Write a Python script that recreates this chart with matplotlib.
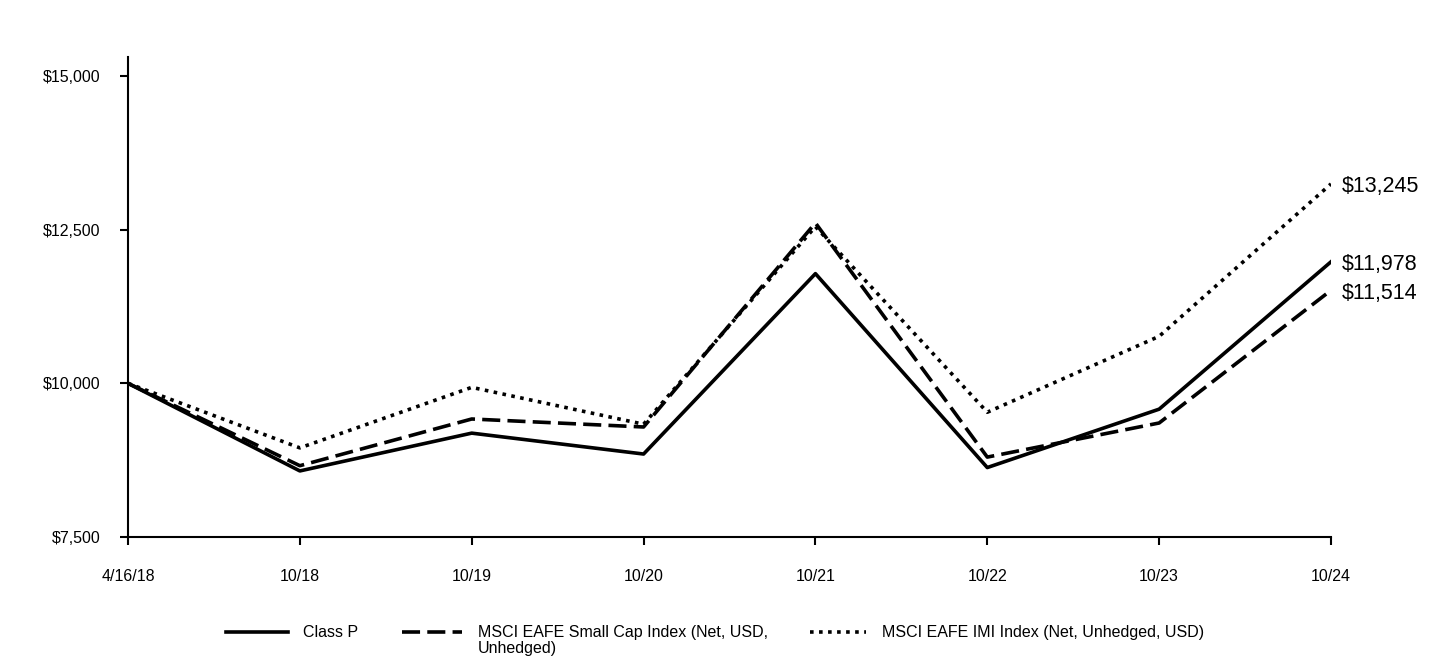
import matplotlib.pyplot as plt
from matplotlib.lines import Line2D
from matplotlib.ticker import FuncFormatter

plt.rcParams['font.family'] = ['Liberation Sans', 'DejaVu Sans']

# ── Data ──────────────────────────────────────────────────────────────────────
dates = ['4/16/18', '10/18', '10/19', '10/20', '10/21', '10/22', '10/23', '10/24']
class_p = [10000, 8575, 9190, 8850, 11785, 8630, 9580, 11978]
small_cap = [10000, 8660, 9420, 9290, 12610, 8800, 9355, 11514]
imi = [10000, 8950, 9935, 9335, 12550, 9530, 10765, 13245]

labels = ['Class P', 'MSCI EAFE Small Cap Index (Net, USD,\nUnhedged)',
          'MSCI EAFE IMI Index (Net, Unhedged, USD)']

# ── Plot ──────────────────────────────────────────────────────────────────────
W, H = 1440, 660
fig = plt.figure(figsize=(W / 100, H / 100), dpi=100)
ax = fig.add_axes([128 / W, 1 - 537 / H, (1331 - 128) / W, (537 - 57) / H])

styles = [dict(ls='-'), dict(dashes=(5, 2)), dict(dashes=(1, 1.5))]
x = list(range(len(dates)))
for series, st in zip([class_p, small_cap, imi], styles):
    ax.plot(x, series, color='black', lw=2.6, **st)

ax.set_xlim(0, len(dates) - 1)
ax.set_ylim(7500, 15310)
ax.set_xticks(x)
ax.set_xticklabels(dates)
ax.set_yticks([7500, 10000, 12500, 15000])
ax.yaxis.set_major_formatter(FuncFormatter(lambda v, _: f'${v:,.0f}'))

for side in ['top', 'right']:
    ax.spines[side].set_visible(False)
for side in ['left', 'bottom']:
    ax.spines[side].set_linewidth(1.5)
ax.tick_params(axis='both', direction='out', length=5.8, width=1.5, labelsize=11.5, colors='black')
ax.tick_params(axis='x', pad=17)
ax.tick_params(axis='y', pad=14)

# end value labels
for series in [class_p, small_cap, imi]:
    ax.annotate(f'${series[-1]:,.0f}', xy=(x[-1], series[-1]), xytext=(8, -2),
                textcoords='offset points', va='center', ha='left', fontsize=15.5,
                annotation_clip=False)

# ── Legend (drawn by hand so the wrapped label hangs down) ────────────────────
leg_y = 1 - 632 / H
handle_x = [(226, 288), (402, 462), (810, 866)]
text_x = [303, 478, 882]
for (x0, x1), tx, lab, st in zip(handle_x, text_x, labels, styles):
    fig.add_artist(Line2D([x0 / W, x1 / W], [leg_y, leg_y], color='black', lw=2.6,
                          transform=fig.transFigure, **st))
    fig.text(tx / W, 1 - 625 / H, lab, ha='left', va='top', fontsize=11.5,
             linespacing=1.05)

fig.savefig('out.png', dpi=100)
plt.close()
